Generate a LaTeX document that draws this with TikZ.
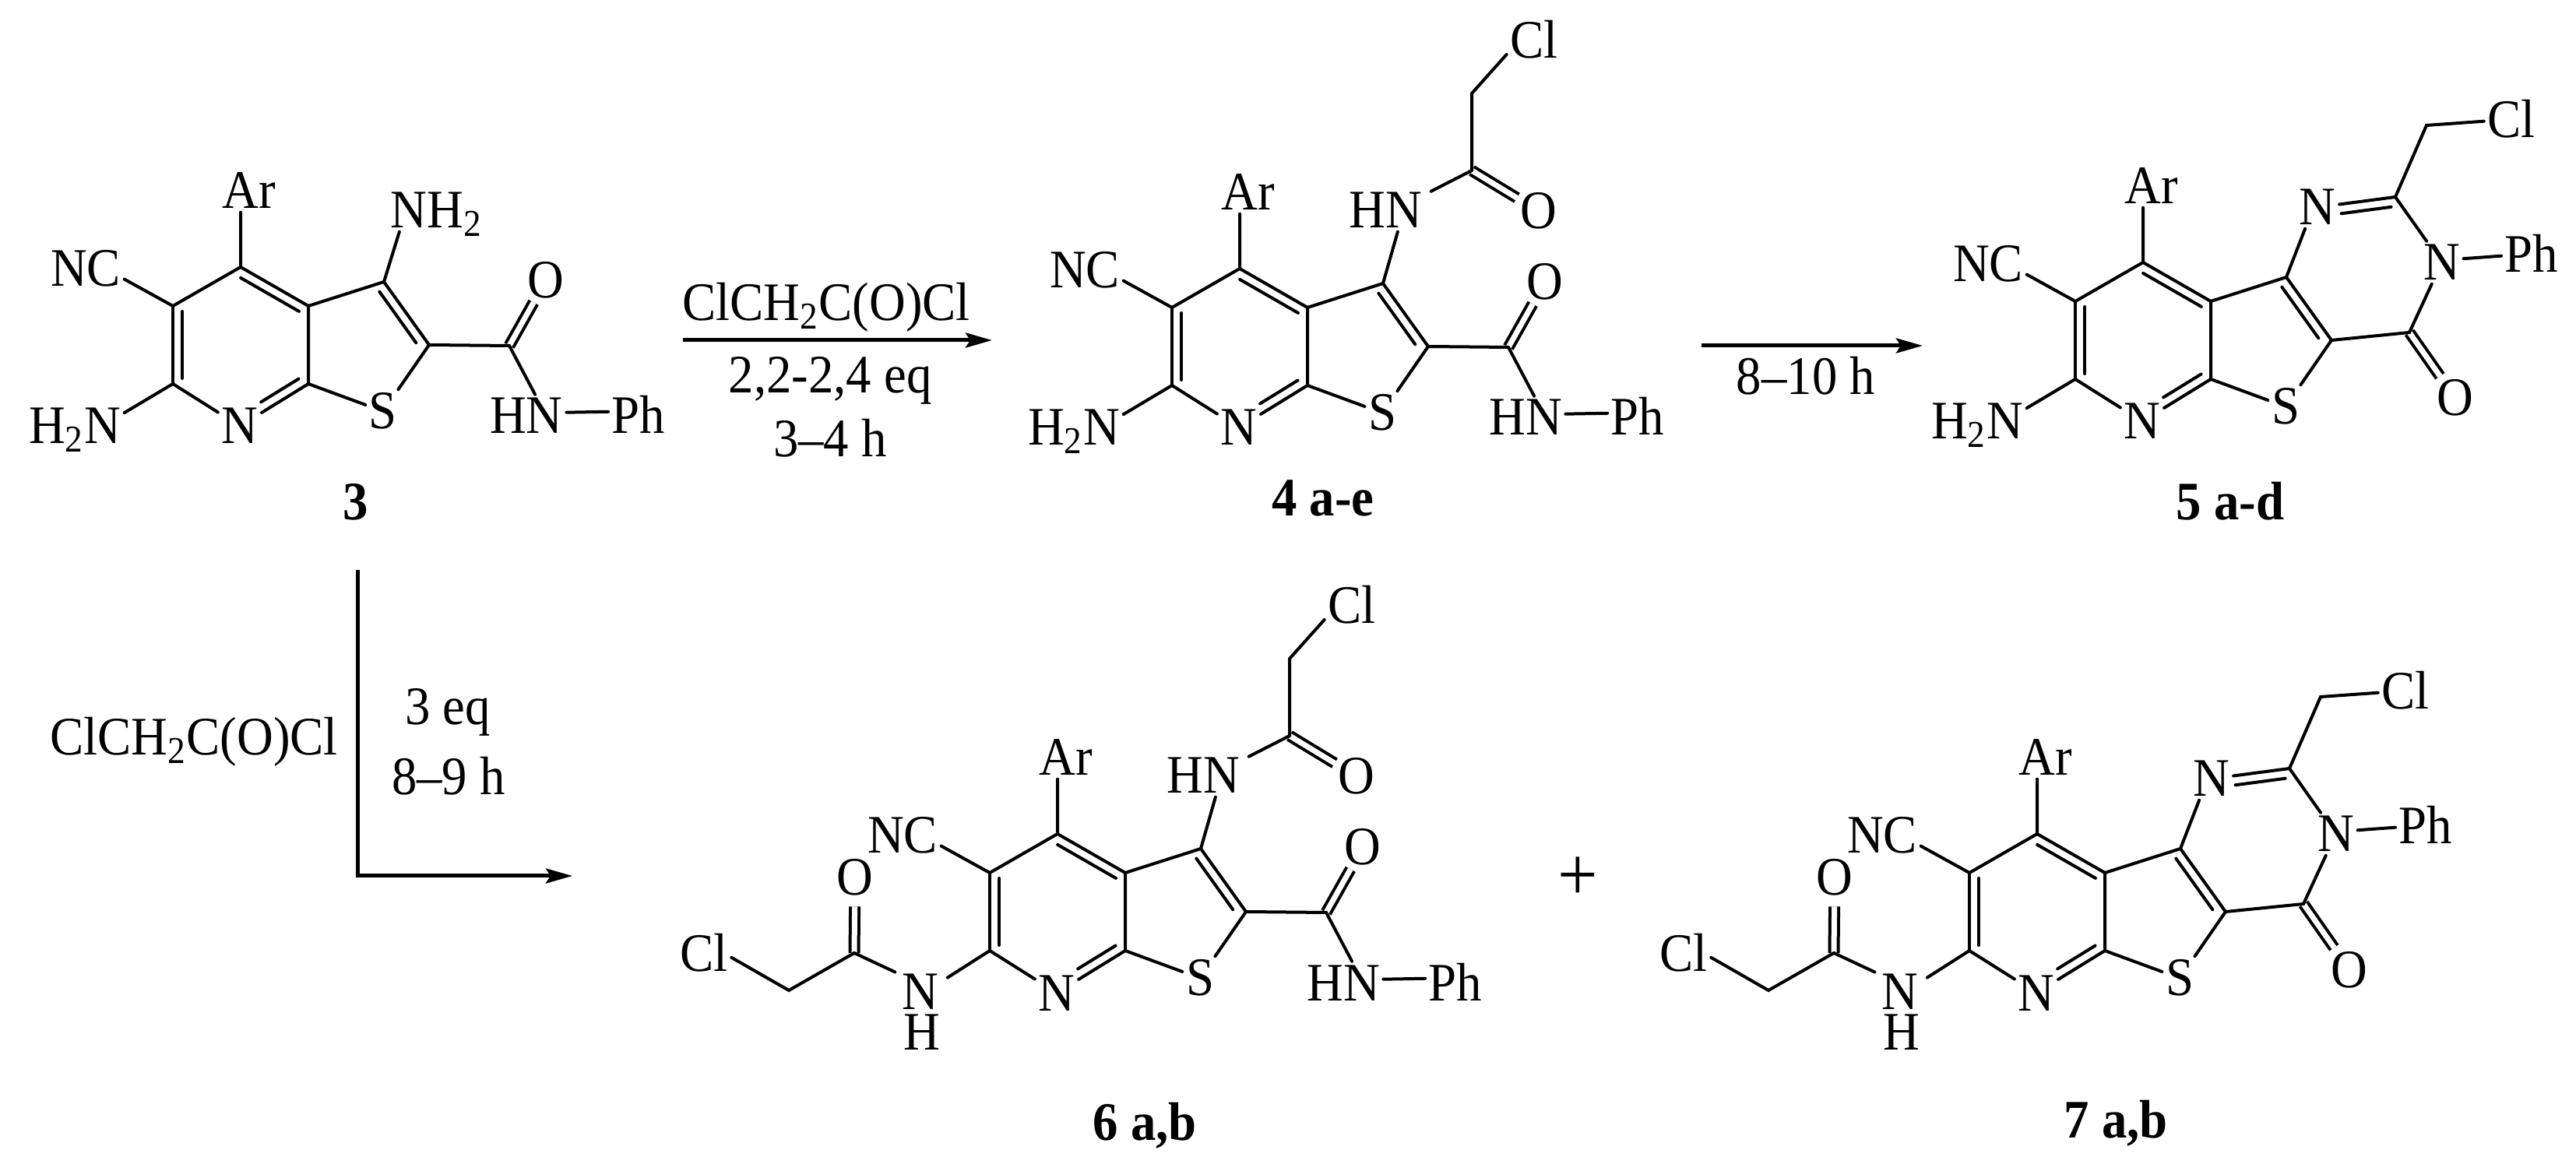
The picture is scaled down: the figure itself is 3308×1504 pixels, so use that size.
\documentclass[tikz,border=0pt]{standalone}
\usepackage{fontspec}
\setmainfont{Liberation Serif}[FakeStretch=0.93]
\usetikzlibrary{arrows.meta,calc}

\newcommand{\chemfont}{\fontsize{19.8}{24}\selectfont}

\tikzset{
    atom/.style={anchor=base,inner sep=0.04cm,font=\chemfont},
    cpdlabel/.style={anchor=base,inner sep=0pt,font=\chemfont\bfseries},
    bond/.style={line width=0.04cm,line cap=round},
    dblbond/.style={line width=0.04cm,double,double distance=0.07cm},
    rxnarrow/.style={line width=0.05cm,-{Stealth[length=0.34cm,width=0.19cm,inset=0.06cm]}}
}

% Second line of a double bond: from, to, start, end, side
\newcommand{\innerbond}[5]{
    \draw[bond] ($(#1)!#3!(#2)!0.12cm!#5:(#2)$) -- ($(#1)!#4!(#2)!0.12cm!#5:(#2)$);
}

% Two fused rings, with C5 at the origin of the scope
\newcommand{\thienoring}{
    \coordinate (c4) at (87,-50);
    \coordinate (c5) at (0,0);
    \coordinate (c6) at (0,100);
    \coordinate (c7) at (174,100);
    \coordinate (c3a) at (174,0);
    \coordinate (c3) at (271,-31);
    \coordinate (c2) at (329,50);
    \node[atom] (ar) at (98,-125) {Ar};
    \node[atom] (nc) at (-112,-25) {NC};
    \node[atom] (np) at (86,177) {N};
    \node[atom] (st) at (270,158) {S};

    % Single bonds
    \draw[bond] (c4 |- ar.south) -- (c4) -- (c5) -- (nc.-15);
    \draw[bond] (c6) -- (np);
    \draw[bond] (c3a) -- (c7) -- (st);
    \draw[bond] (c3a) -- (c3);
    \draw[bond] (c2) -- (st);

    % Double bonds
    \draw[bond] (c5) -- (c6);
    \innerbond{c5}{c6}{0.07}{0.93}{90}
    \draw[bond] (c4) -- (c3a);
    \innerbond{c4}{c3a}{0.07}{0.93}{-90}
    \draw[bond] (c7) -- (np);
    \innerbond{c7}{np}{0.07}{0.62}{-90}
    \draw[bond] (c3) -- (c2);
    \innerbond{c3}{c2}{0.07}{0.88}{-90}
}

% Free amino group on C6
\newcommand{\aminoarm}{
    \node[atom] (hn2) at (-126,177) {H\smash{\textsubscript{2}}N};
    \draw[bond] (c6) -- (hn2.15);
}

% Carboxamide on C2
\newcommand{\amidearm}{
    \coordinate (cam) at (432,51);
    \node[atom] (oam) at (479,-10) {O};
    \node[atom] (hnam) at (454,164) {HN};
    \node[atom] (pham) at (598,164) {Ph};
    \draw[dblbond] (cam) -- (oam);
    \draw[bond] (c2) -- (cam) -- (hnam.68);
    \draw[bond] (hnam.5) -- (pham.174);
}

% Chloroacetyl amide on C3
\newcommand{\chloroarmtop}{
    \coordinate (cca) at (385,-176);
    \coordinate (chca) at (385,-275);
    \node[atom] (hnca) at (274,-102) {HN};
    \node[atom] (oca) at (471,-101) {O};
    \node[atom] (clca) at (465,-320) {Cl};
    \draw[dblbond] (cca) -- (oca);
    \draw[bond] (c3) -- (hnca.-60);
    \draw[bond,shorten >=0.08cm] (cca) -- (hnca.22);
    \draw[bond] (cca) -- (chca) -- (clca.208);
}

% Chloroacetyl amide on C6
\newcommand{\chloroarmleft}{
    \coordinate (cb) at (-174,103);
    \coordinate (chb) at (-258,151);
    \node[atom] (nb) at (-89,176) {N};
    \node[atom] (hb) at (-87,228) {H};
    \node[atom] (ob) at (-173,29) {O};
    \node[atom] (clb) at (-367,127) {Cl};
    \draw[dblbond,shorten >=0.09cm] (cb) -- (ob);
    \draw[bond,shorten >=0.08cm] (c6) -- (nb.27);
    \draw[bond,shorten >=0.05cm] (cb) -- (nb.140);
    \draw[bond] (cb) -- (chb) -- (clb.-9);
}

% Third ring closed over C3 and C2
\newcommand{\pyrimidonering}{
    \coordinate (clac) at (429,40);
    \coordinate (cqn) at (411,-134);
    \coordinate (chlac) at (451,-226);
    \node[atom] (olac) at (488,147) {O};
    \node[atom] (nlac) at (470.5,-27) {N};
    \node[atom] (nq) at (311,-98) {N};
    \node[atom] (cllac) at (560,-210) {Cl};
    \node[atom] (phlac) at (586,-37) {Ph};
    \draw[dblbond] (clac) -- (olac);
    \draw[bond] (c2) -- (clac) -- (nlac);
    \draw[bond] (nlac) -- (cqn) -- (chlac) -- (cllac);
    \draw[bond] (nlac.10) -- (phlac);
    \draw[bond] (c3) -- (nq.-120);
    \draw[bond] (nq) -- (cqn);
    \innerbond{nq}{cqn}{0.29}{0.93}{-90}
}

\begin{document}
\begin{tikzpicture}[x=0.01cm,y=-0.01cm]
    \useasboundingbox (0,0) rectangle (3308,1504);

    % Compound 3
    \begin{scope}[shift={(222,393)},name prefix=m3-]
        \thienoring
        \aminoarm
        \amidearm
        \node[atom] (nh2) at (338.5,-100) {NH\smash{\textsubscript{2}}};
        \draw[bond] (c3) -- (nh2.-150.6);
    \end{scope}
    \node[cpdlabel] (lab3) at (457,668) {3};

    % Compound 4
    \begin{scope}[shift={(1505,395)},name prefix=m4-]
        \thienoring
        \aminoarm
        \amidearm
        \chloroarmtop
    \end{scope}
    \node[cpdlabel] (lab4) at (1699,663) {4 a-e};

    % Compound 5
    \begin{scope}[shift={(2665,387)},name prefix=m5-]
        \thienoring
        \aminoarm
        \pyrimidonering
    \end{scope}
    \node[cpdlabel] (lab5) at (2864,668) {5 a-d};

    % Compound 6
    \begin{scope}[shift={(1271,1121)},name prefix=m6-]
        \thienoring
        \amidearm
        \chloroarmtop
        \chloroarmleft
    \end{scope}
    \node[cpdlabel] (lab6) at (1470,1464) {6 a,b};

    % Compound 7
    \begin{scope}[shift={(2529,1121)},name prefix=m7-]
        \thienoring
        \pyrimidonering
        \chloroarmleft
    \end{scope}
    \node[cpdlabel] (lab7) at (2717,1461) {7 a,b};

    \node[inner sep=0pt,font=\fontsize{28}{30}\selectfont] (plus) at (2026,1129) {+};

    % Arrow from 3 to 4
    \coordinate (arr1a) at (877,437);
    \coordinate (arr1b) at (1274,437);
    \draw[rxnarrow] (arr1a) -- (arr1b);
    \node[atom] (arr1top) at (1061,412) {ClCH\textsubscript{2}C(O)Cl};
    \node[atom] (arr1mid) at (1066,505) {2,2-2,4 eq};
    \node[atom] (arr1low) at (1066,587) {3--4 h};

    % Arrow from 4 to 5
    \coordinate (arr2a) at (2185,444);
    \coordinate (arr2b) at (2469,444);
    \draw[rxnarrow] (arr2a) -- (arr2b);
    \node[atom] (arr2low) at (2319,507) {8--10 h};

    % Arrow from 3 to 6
    \coordinate (arr3a) at (459,732);
    \coordinate (arr3c) at (459,1125);
    \coordinate (arr3b) at (735,1125);
    \draw[rxnarrow] (arr3a) -- (arr3c) -- (arr3b);
    \node[atom] (arr3left) at (249,970) {ClCH\textsubscript{2}C(O)Cl};
    \node[atom] (arr3top) at (575,931) {3 eq};
    \node[atom] (arr3low) at (576,1021) {8--9 h};
\end{tikzpicture}
\end{document}
